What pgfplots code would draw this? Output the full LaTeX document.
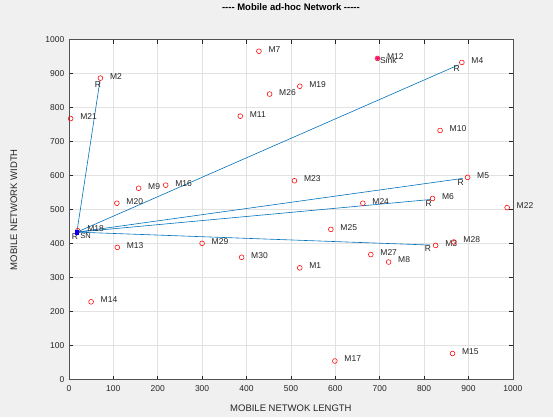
\documentclass[border=0pt]{standalone}
\usepackage{pgfplots}
\pgfplotsset{compat=1.18}
\usepackage{fontspec}
\setmainfont{Liberation Sans}
\definecolor{figgray}{RGB}{240,240,240}
\definecolor{axgray}{RGB}{38,38,38}
\definecolor{gridc}{RGB}{226,226,226}
\definecolor{mblue}{RGB}{0,114,189}
\begin{document}
\begin{tikzpicture}
\fill[figgray] (-68.9pt,-37.7pt) rectangle (484.1pt,379.3pt);
\begin{axis}[
  scale only axis, width=444pt, height=340pt,
  at={(0pt,0pt)}, anchor=south west,
  xmin=0, xmax=1000, ymin=0, ymax=1000,
  xtick={0,100,...,1000}, ytick={0,100,...,1000},
  grid=major, major grid style={gridc, line width=0.5pt},
  axis background/.style={fill=white},
  axis line style={axgray!80, line width=0.5pt},
  tick align=inside, tick style={axgray, line width=0.5pt}, major tick length=4pt,
  xtick pos=both, ytick pos=both,
  xticklabel pos=bottom, yticklabel pos=left,
  /pgf/number format/assume math mode=true,
  /pgf/number format/1000 sep={},
  tick label style={font=\fontsize{8.5}{10}\selectfont, text=axgray},
  xticklabel style={yshift=-2pt},
  yticklabel style={xshift=-1pt},
  title={{-}{-}{-}{-} Mobile ad-hoc Network {-}{-}{-}{-}{-}},
  title style={at={(axis description cs:0.5,1.079)}, anchor=center, font=\bfseries\fontsize{9.5}{11}\selectfont},
  xlabel={MOBILE NETWOK LENGTH},
  ylabel={MOBILE NETWORK WIDTH},
  xlabel style={at={(axis description cs:0.5,-0.085)}, anchor=center, font=\fontsize{9.5}{11}\selectfont, text=axgray},
  ylabel style={at={(axis description cs:-0.124,0.5)}, anchor=center, font=\fontsize{9.5}{11}\selectfont, text=axgray},
  clip=false,
]
% routes from source node
\addplot[mblue, line width=0.6pt] coordinates {(18,434) (70,880)};
\addplot[mblue, line width=0.6pt] coordinates {(18,434) (878,926)};
\addplot[mblue, line width=0.6pt] coordinates {(18,434) (887,592)};
\addplot[mblue, line width=0.6pt] coordinates {(18,434) (815,530)};
\addplot[mblue, line width=0.6pt] coordinates {(18,434) (813,396)};
% R labels at relay ends
\addplot[draw=none, mark=none, nodes near coords={R}, every node near coord/.append style={anchor=center, xshift=-2pt, yshift=-4pt, font=\fontsize{8.5}{10}\selectfont, text=axgray}]
  coordinates {(70,880) (878,926) (887,592) (815,530) (813,396) (18,434)};
% mobile nodes
\addplot[only marks, mark=o, mark size=2.4pt, red, mark options={line width=0.55pt, draw=red},
  point meta=explicit symbolic, nodes near coords,
  every node near coord/.append style={anchor=west, xshift=6pt, yshift=2pt, font=\fontsize{8.5}{10}\selectfont, text=axgray}]
  table[meta=label] {
x y label
520 329 M1
71 887 M2
826 395 M3
885 933 M4
898 595 M5
819 533 M6
428 966 M7
720 346 M8
157 563 M9
836 733 M10
386 775 M11
695 945 M12
109 389 M13
50 229 M14
864 77 M15
218 572 M16
599 55 M17
20 438 M18
520 863 M19
108 519 M20
4 768 M21
987 506 M22
508 585 M23
662 519 M24
590 442 M25
452 840 M26
680 368 M27
867 405 M28
300 401 M29
389 360 M30
};
% sink
\addplot[only marks, mark=*, mark size=1.8pt, magenta,
  nodes near coords={Sink}, every node near coord/.append style={anchor=west, xshift=-1pt, yshift=-2.5pt, font=\fontsize{8.5}{10}\selectfont, text=axgray}]
  coordinates {(695,945)};
% source
\addplot[only marks, mark=square*, mark size=1.6pt, blue,
  nodes near coords={SN}, every node near coord/.append style={anchor=west, xshift=0pt, yshift=-4pt, font=\fontsize{7.5}{9}\selectfont, text=axgray}]
  coordinates {(18,434)};
\end{axis}
\end{tikzpicture}
\end{document}
